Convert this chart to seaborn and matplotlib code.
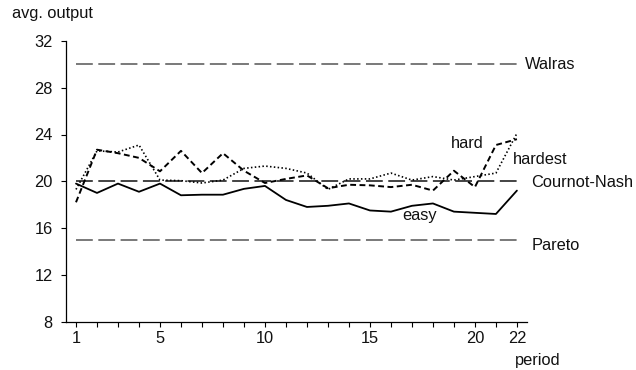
import matplotlib
matplotlib.use("Agg")
import matplotlib.pyplot as plt
import seaborn as sns
import pandas as pd

periods = list(range(1, 23))
easy = [19.8, 19.0, 19.8, 19.1, 19.8, 18.8, 18.85, 18.85, 19.35, 19.6, 18.4,
        17.8, 17.9, 18.1, 17.5, 17.4, 17.9, 18.1, 17.4, 17.3, 17.2, 19.2]
hard = [18.2, 22.7, 22.4, 22.0, 20.85, 22.6, 20.7, 22.4, 20.9, 19.85, 20.2,
        20.5, 19.4, 19.7, 19.65, 19.5, 19.7, 19.2, 20.9, 19.5, 23.1, 23.6]
hardest = [19.3, 22.6, 22.5, 23.1, 20.1, 20.05, 19.85, 20.1, 21.1, 21.3, 21.1,
           20.7, 19.3, 20.2, 20.2, 20.7, 20.1, 20.4, 20.1, 20.4, 20.7, 24.1]
ref_names = ["Walras", "Cournot-Nash", "Pareto"]
ref_levels = [30, 20, 15]
ref_colors = ["#555555", "#111111", "#555555"]
yticks = [8, 12, 16, 20, 24, 28, 32]
xticklabels_at = [1, 5, 10, 15, 20, 22]

sns.set_theme(style="ticks")
plt.rcParams['font.family'] = ['Liberation Sans', 'DejaVu Sans']

fig = plt.figure(figsize=(6.36, 3.70), dpi=100)
ax = fig.add_axes([66/636, 1-321.5/370, (527-66)/636, (321.5-41)/370])

df = pd.DataFrame({"period": periods, "easy": easy, "hard": hard, "hardest": hardest})

for y, c in zip(ref_levels, ref_colors):
    ax.hlines(y, periods[0], periods[-1], colors=c, lw=1.1,
              linestyles=[(0, (11, 3.6))])

sns.lineplot(data=df, x="period", y="easy", ax=ax, color="black", lw=1.3)
sns.lineplot(data=df, x="period", y="hard", ax=ax, color="black", lw=1.4,
             linestyle=(0, (3.0, 1.8)))
sns.lineplot(data=df, x="period", y="hardest", ax=ax, color="black", lw=1.2,
             linestyle=(0, (0.9, 1.4)))

fs = 11.8
ax.set_xlim(0.524, 22.48)
ax.set_ylim(8, 32)
ax.set_yticks(yticks)
ax.set_xticks(periods)
ax.set_xticklabels([str(p) if p in xticklabels_at else "" for p in periods])
ax.tick_params(axis="both", labelsize=fs, length=3.5, width=0.8, color="black",
               labelcolor="#111111")
ax.tick_params(axis="y", pad=6)
ax.tick_params(axis="x", pad=3.5)
ax.set_xlabel("")
ax.set_ylabel("")
for s in ["top", "right"]:
    ax.spines[s].set_visible(False)
for s in ["left", "bottom"]:
    ax.spines[s].set_linewidth(0.9)
    ax.spines[s].set_color("black")

tc = "#111111"
fig.text(12.5/636, 1-18.3/370, "avg. output", fontsize=fs, va="baseline", ha="left", color=tc)
fig.text(515/636, 1-365/370, "period", fontsize=fs, va="baseline", ha="left", color=tc)
ax.text(22.4, 29.6, "Walras", fontsize=fs, va="baseline", ha="left", color=tc)
ax.text(22.69, 19.5, "Cournot-Nash", fontsize=fs, va="baseline", ha="left", color=tc)
ax.text(22.69, 14.1, "Pareto", fontsize=fs, va="baseline", ha="left", color=tc)
ax.text(18.84, 22.85, "hard", fontsize=fs, va="baseline", ha="left", color=tc)
ax.text(21.81, 21.5, "hardest", fontsize=fs, va="baseline", ha="left", color=tc)
ax.text(16.55, 16.67, "easy", fontsize=fs, va="baseline", ha="left", color=tc)

fig.savefig("out.png", dpi=100)
